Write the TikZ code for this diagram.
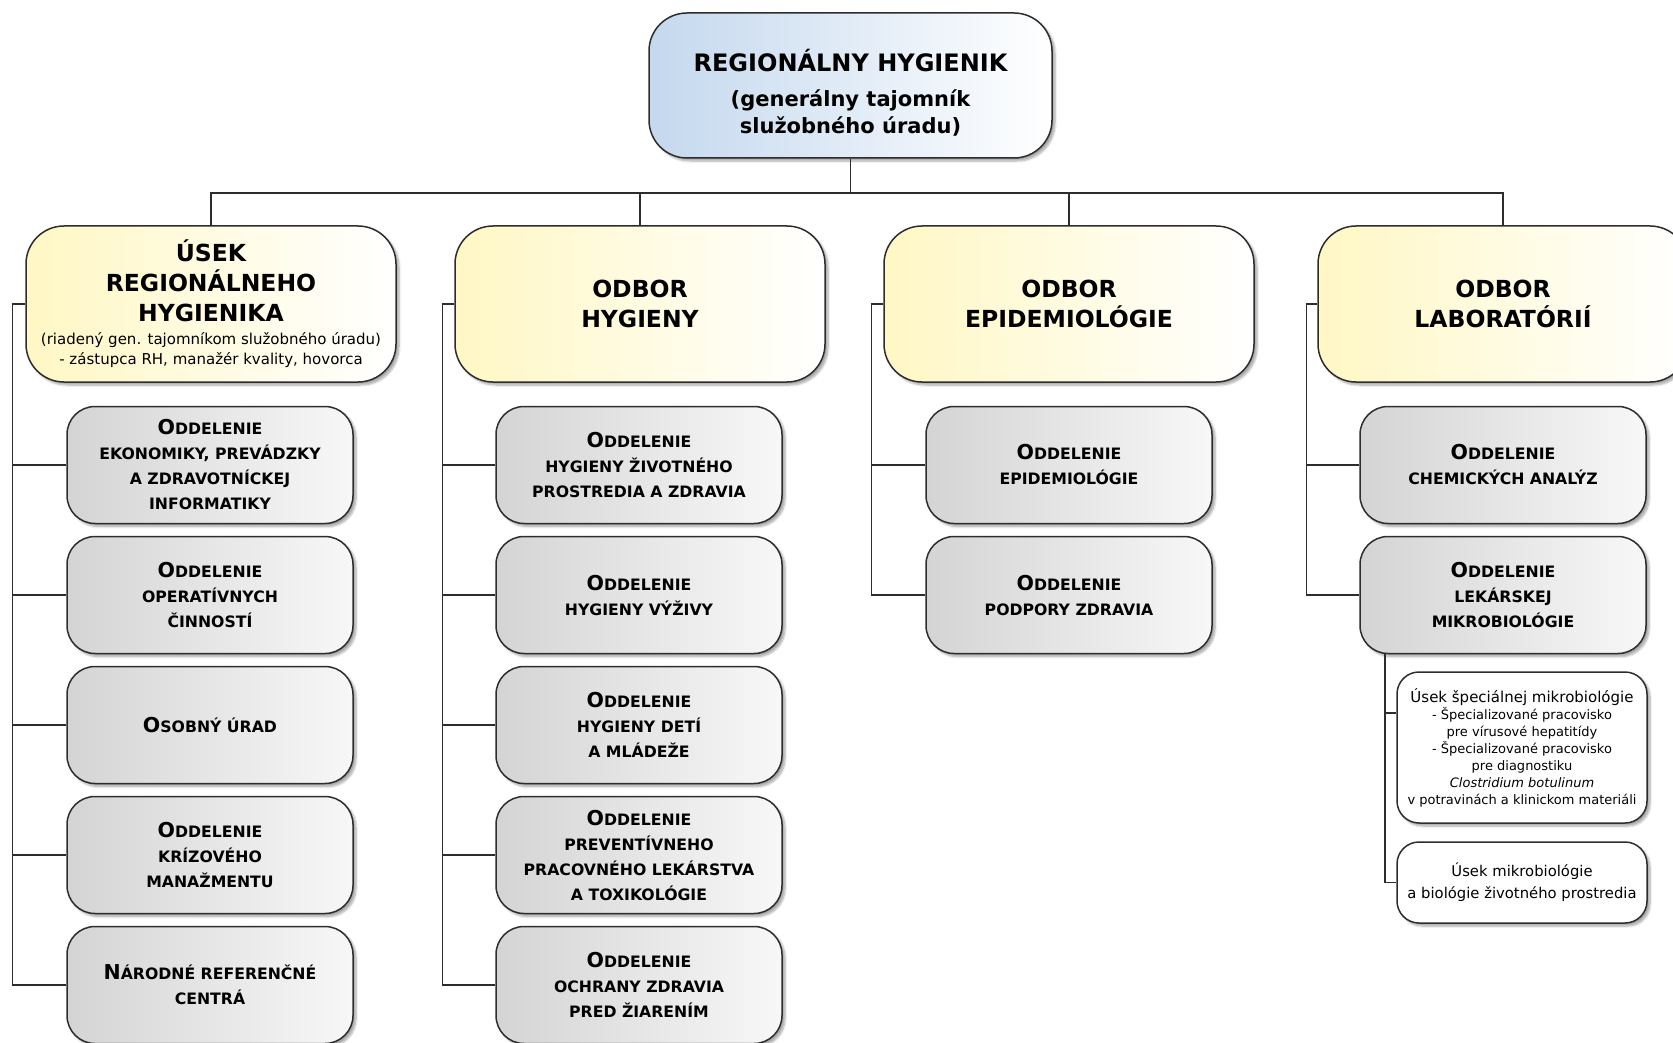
\documentclass[tikz,border=0pt]{standalone}
\usepackage{fontspec}
\setmainfont{DejaVu Sans}
\usetikzlibrary{shadows.blur}

\definecolor{rhblue}{RGB}{196,216,238}
\definecolor{odyellow}{RGB}{255,247,196}
\definecolor{subgray}{RGB}{212,212,212}
\definecolor{linegray}{RGB}{45,45,45}

% initial letter larger, the rest in small capitals
\newcommand{\kap}[2]{{\fontsize{20.5}{25}\selectfont #1}#2}

\begin{document}
\begin{tikzpicture}[x=1pt,y=-1pt,
    line/.style={draw=linegray, line width=1.1pt},
    box/.style={draw=linegray, line width=1.5pt, align=center, inner sep=0pt,
        blur shadow={shadow xshift=3pt, shadow yshift=-3pt, shadow blur steps=6, shadow opacity=35}},
    topbox/.style={box, rounded corners=38pt, minimum width=403pt, minimum height=145pt,
        left color=rhblue, right color=white, font=\bfseries\fontsize{24}{30}\selectfont},
    headbox/.style={box, rounded corners=38pt, minimum width=370pt, minimum height=156pt,
        left color=odyellow, right color=white, font=\bfseries\fontsize{23.5}{30}\selectfont},
    subbox/.style={box, rounded corners=28pt, minimum width=286pt, minimum height=117pt,
        left color=subgray, right color=white!97!black, font=\bfseries\fontsize{15.7}{25}\selectfont},
    smallbox/.style={box, rounded corners=22pt, minimum width=250pt,
        fill=white, font=\fontsize{13}{17}\selectfont}]
    \useasboundingbox (0,0) rectangle (1673,1043);

    \node[topbox] (rh) at (850.5,85.5) {\rule{0pt}{37pt}REGIONÁLNY HYGIENIK\\[5pt]
        {\fontsize{21}{30}\selectfont (generálny tajomník}\\[-3pt]
        {\fontsize{21}{30}\selectfont služobného úradu)}};

    \node[headbox] (usek) at (211,304) {ÚSEK\\ REGIONÁLNEHO\\ HYGIENIKA\\[-7pt]
        {\mdseries\fontsize{15}{20}\selectfont (riadený gen. tajomníkom služobného úradu)}\\[-10pt]
        {\mdseries\fontsize{15}{20}\selectfont - zástupca RH, manažér kvality, hovorca}};
    \node[headbox] (hyg) at (640,304) {ODBOR\\ HYGIENY};
    \node[headbox] (epi) at (1069,304) {ODBOR\\ EPIDEMIOLÓGIE};
    \node[headbox] (lab) at (1503,304) {ODBOR\\ LABORATÓRIÍ};

    \coordinate (bus) at (850.5,193);
    \draw[line] (rh.south) -- (rh.south |- bus);
    \draw[line] (usek.north) -- (usek.north |- bus) -- (lab.north |- bus) -- (lab.north);
    \draw[line] (hyg.north) -- (hyg.north |- bus);
    \draw[line] (epi.north) -- (epi.north |- bus);

    \node[subbox] (u1) at (210,465) {\kap{O}{DDELENIE}\\ EKONOMIKY, PREVÁDZKY\\ A ZDRAVOTNÍCKEJ\\ INFORMATIKY};
    \node[subbox] (u2) at (210,595) {\kap{O}{DDELENIE}\\ OPERATÍVNYCH\\ ČINNOSTÍ};
    \node[subbox] (u3) at (210,725) {\kap{O}{SOBNÝ ÚRAD}};
    \node[subbox] (u4) at (210,855) {\kap{O}{DDELENIE}\\ KRÍZOVÉHO\\ MANAŽMENTU};
    \node[subbox] (u5) at (210,985) {\kap{N}{ÁRODNÉ REFERENČNÉ}\\ CENTRÁ};

    \node[subbox] (h1) at (639,465) {\kap{O}{DDELENIE}\\ HYGIENY ŽIVOTNÉHO\\ PROSTREDIA A ZDRAVIA};
    \node[subbox] (h2) at (639,595) {\kap{O}{DDELENIE}\\ HYGIENY VÝŽIVY};
    \node[subbox] (h3) at (639,725) {\kap{O}{DDELENIE}\\ HYGIENY DETÍ\\ A MLÁDEŽE};
    \node[subbox] (h4) at (639,855) {\kap{O}{DDELENIE}\\ PREVENTÍVNEHO\\ PRACOVNÉHO LEKÁRSTVA\\ A TOXIKOLÓGIE};
    \node[subbox] (h5) at (639,985) {\kap{O}{DDELENIE}\\ OCHRANY ZDRAVIA\\ PRED ŽIARENÍM};

    \node[subbox] (e1) at (1069,465) {\kap{O}{DDELENIE}\\ EPIDEMIOLÓGIE};
    \node[subbox] (e2) at (1069,595) {\kap{O}{DDELENIE}\\ PODPORY ZDRAVIA};

    \node[subbox] (l1) at (1503,465) {\kap{O}{DDELENIE}\\ CHEMICKÝCH ANALÝZ};
    \node[subbox] (l2) at (1503,595) {\kap{O}{DDELENIE}\\ LEKÁRSKEJ\\ MIKROBIOLÓGIE};

    \node[smallbox, minimum height=151pt] (s1) at (1522,747.5) {{\fontsize{15}{17}\selectfont Úsek špeciálnej mikrobiológie}\\
        - Špecializované pracovisko\\ pre vírusové hepatitídy\\ - Špecializované pracovisko\\
        pre diagnostiku\\ \textit{Clostridium botulinum}\\ v potravinách a klinickom materiáli};
    \node[smallbox, minimum height=81pt, font=\fontsize{14.8}{22}\selectfont] (s2) at (1522,882.5)
        {Úsek mikrobiológie\\ a biológie životného prostredia};

    % spines
    \draw[line] (usek.west) -- ++(-13,0) coordinate (sp1) |- (u5.west);
    \foreach \n in {u1,u2,u3,u4}
        \draw[line] (sp1 |- \n.west) -- (\n.west);
    \draw[line] (hyg.west) -- ++(-12,0) coordinate (sp2) |- (h5.west);
    \foreach \n in {h1,h2,h3,h4}
        \draw[line] (sp2 |- \n.west) -- (\n.west);
    \draw[line] (epi.west) -- ++(-12,0) coordinate (sp3) |- (e2.west);
    \draw[line] (sp3 |- e1.west) -- (e1.west);
    \draw[line] (lab.west) -- ++(-11,0) coordinate (sp4) |- (l2.west);
    \draw[line] (sp4 |- l1.west) -- (l1.west);
    \coordinate (sp5) at (l2.south -| 1385,0);
    \draw[line] (sp5) |- (s2.west);
    \draw[line] (sp5 |- s1.west) ++(0,-34.5) -- ([yshift=34.5pt]s1.west);
\end{tikzpicture}
\end{document}
